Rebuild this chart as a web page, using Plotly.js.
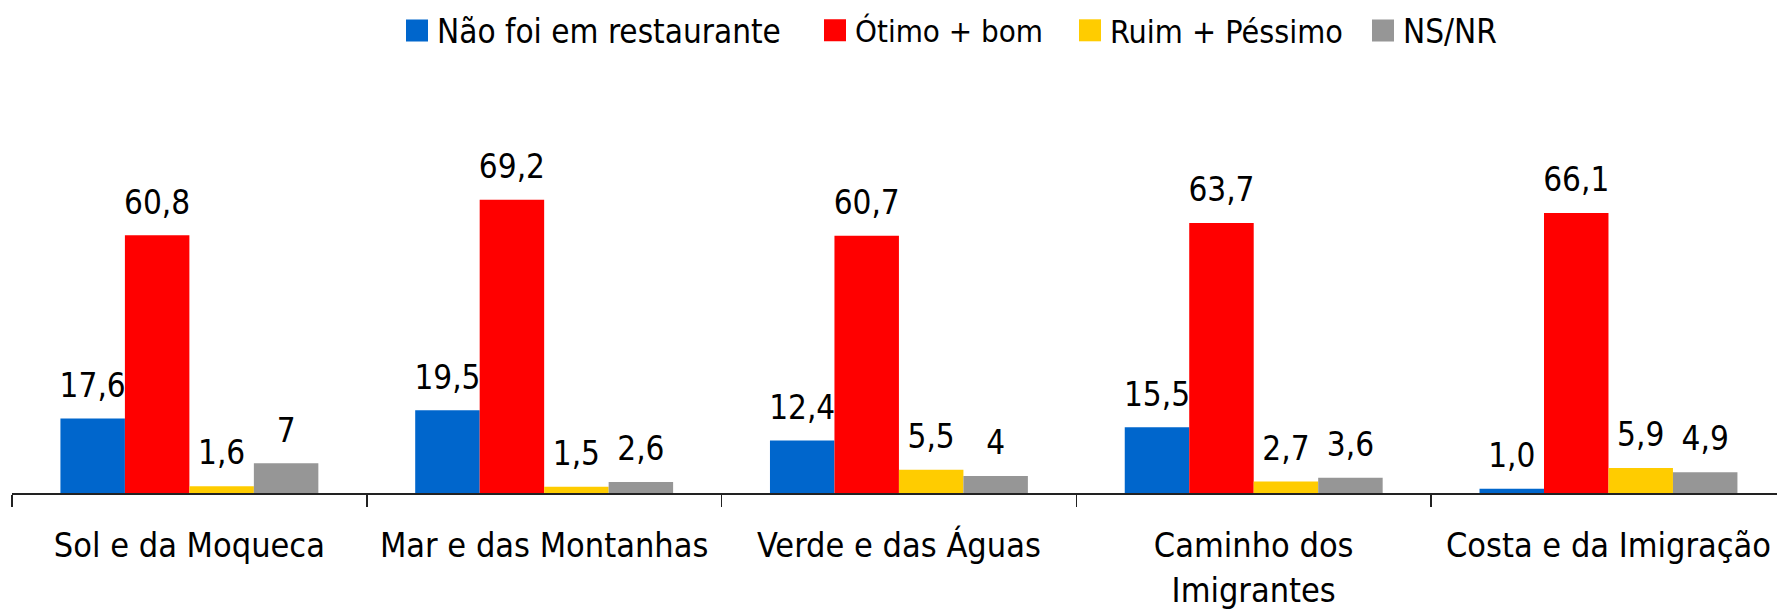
<!DOCTYPE html>
<html>
<head>
<meta charset="utf-8">
<script src="https://cdn.plot.ly/plotly-3.0.1.min.js"></script>
<style>html,body{margin:0;padding:0;background:#fff;}#chart{width:1777px;height:610px;}</style>
</head>
<body>
<div id="chart"></div>
<script>
const categories = ["Sol e da Moqueca", "Mar e das Montanhas", "Verde e das Águas", "Caminho dos<br>Imigrantes", "Costa e da Imigração"];
const seriesNames = ["Não foi em restaurante", "Ótimo + bom", "Ruim + Péssimo", "NS/NR"];
const naoFoi = [17.6, 19.5, 12.4, 15.5, 1.0];
const otimoBom = [60.8, 69.2, 60.7, 63.7, 66.1];
const ruimPessimo = [1.6, 1.5, 5.5, 2.7, 5.9];
const nsnr = [7, 2.6, 4, 3.6, 4.9];
const labelsNaoFoi = ["17,6", "19,5", "12,4", "15,5", "1,0"];
const labelsOtimo = ["60,8", "69,2", "60,7", "63,7", "66,1"];
const labelsRuim = ["1,6", "1,5", "5,5", "2,7", "5,9"];
const labelsNsnr = ["7", "2,6", "4", "3,6", "4,9"];
const colors = ["#0066CC", "#FF0000", "#FFCC00", "#969696"];

const FONT = "DejaVu Sans Condensed, DejaVu Sans, sans-serif";
const values = [naoFoi, otimoBom, ruimPessimo, nsnr];
const labels = [labelsNaoFoi, labelsOtimo, labelsRuim, labelsNsnr];
const legendIds = ["legend", "legend2", "legend3", "legend4"];
const legendX = [397, 815, 1070, 1363];
const legendSize = [33, 31, 32, 33];

const bars = values.map((v, i) => ({
  type: "bar",
  name: seriesNames[i],
  legend: legendIds[i],
  offsetgroup: "g" + i,
  x: categories,
  y: v,
  marker: {color: colors[i], line: {width: 0}},
  hoverinfo: "skip"
}));

const texts = values.map((v, i) => ({
  type: "scatter",
  mode: "markers+text",
  showlegend: false,
  offsetgroup: "g" + i,
  x: categories,
  y: v,
  text: labels[i],
  textposition: "top center",
  textfont: {family: FONT, size: 33, color: "#000"},
  marker: {size: 20, opacity: 0, color: colors[i]},
  cliponaxis: false,
  hoverinfo: "skip"
}));

const layout = {
  width: 1777, height: 610,
  margin: {l: 12, r: 0, t: 154, b: 117, pad: 0},
  paper_bgcolor: "#fff", plot_bgcolor: "#fff",
  barmode: "group", bargap: 0.273, bargroupgap: 0,
  scattermode: "group", scattergap: 0.273,
  font: {family: FONT, color: "#000"},
  showlegend: true,
  xaxis: {
    type: "category", range: [-0.5, 4.475],
    showline: true, linecolor: "#222", linewidth: 1.5,
    ticks: "outside", tickson: "boundaries", ticklen: 12, tickwidth: 1.5, tickcolor: "#222",
    ticklabelstandoff: 22,
    tickfont: {family: FONT, size: 34, color: "#000"},
    showgrid: false, zeroline: false, fixedrange: true
  },
  yaxis: {range: [0, 80], visible: false, showgrid: false, zeroline: false, fixedrange: true}
};
legendIds.forEach((id, i) => {
  layout[id] = {
    orientation: "h", xref: "container", yref: "container",
    x: legendX[i] / 1777, xanchor: "left", y: 0.95, yanchor: "middle",
    font: {family: FONT, size: legendSize[i], color: "#000"},
    bgcolor: "rgba(0,0,0,0)", borderwidth: 0,
    itemclick: false, itemdoubleclick: false
  };
});

Plotly.newPlot("chart", bars.concat(texts), layout, {displayModeBar: false, staticPlot: true}).then(() => {
  document.querySelectorAll("#chart .legendpoints path").forEach(p => {
    p.setAttribute("d", "M11,11H-11V-11H11Z");
  });
});
</script>
</body>
</html>
